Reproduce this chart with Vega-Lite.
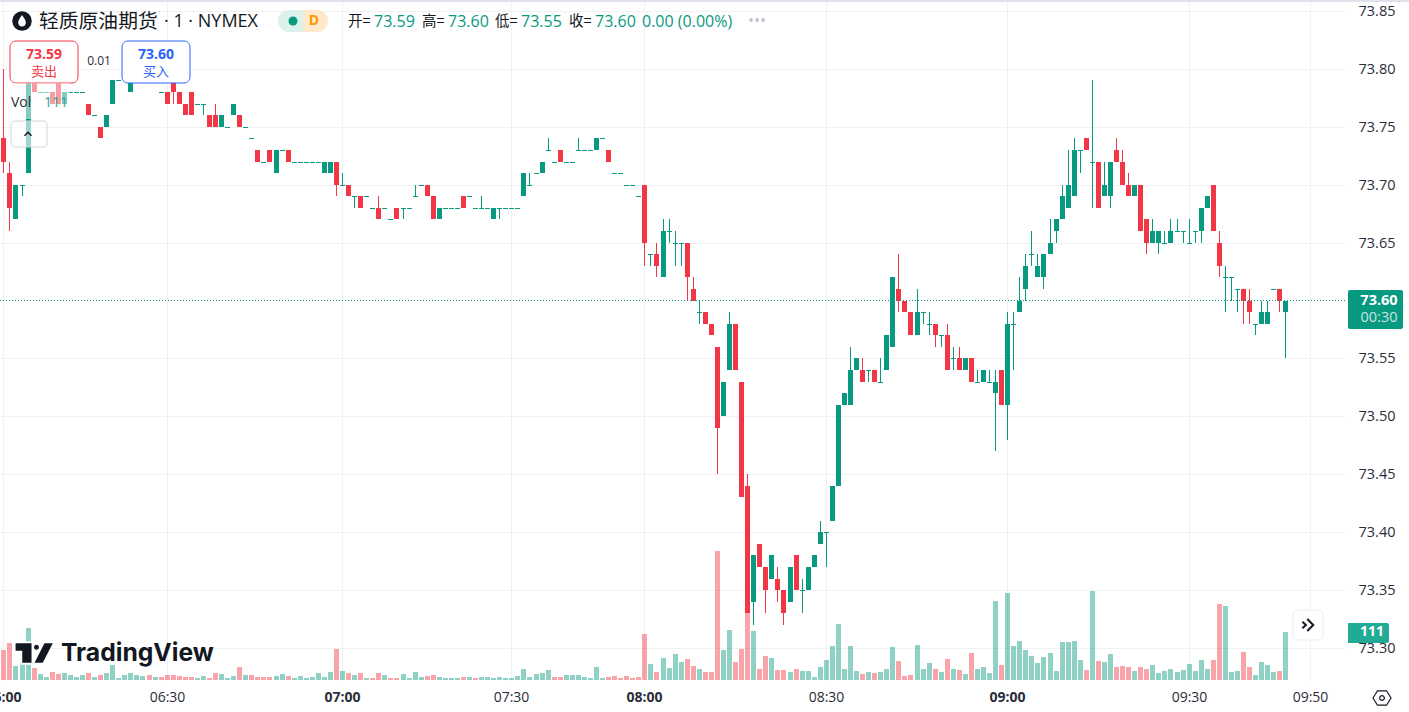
{"$schema":"https://vega.github.io/schema/vega-lite/v6.json","width":1345,"height":680,"autosize":"none","padding":{"left":0,"top":0,"right":64,"bottom":32},"background":"#ffffff","config":{"view":{"stroke":null},"text":{"font":"Open Sans"}},
"datasets":{"bars":[
{"i":0,"o":73.74,"h":73.80,"l":73.71,"c":73.72,"v":69,"d":"down"},
{"i":1,"o":73.71,"h":73.72,"l":73.66,"c":73.68,"v":85,"d":"down"},
{"i":2,"o":73.67,"h":73.70,"l":73.67,"c":73.70,"v":32,"d":"up"},
{"i":3,"o":73.70,"h":73.70,"l":73.69,"c":73.70,"v":53,"d":"up"},
{"i":4,"o":73.71,"h":73.79,"l":73.71,"c":73.79,"v":120,"d":"up"},
{"i":5,"o":73.79,"h":73.79,"l":73.78,"c":73.78,"v":28,"d":"down"},
{"i":6,"o":73.78,"h":73.78,"l":73.78,"c":73.78,"v":14,"d":"up"},
{"i":7,"o":73.78,"h":73.78,"l":73.78,"c":73.78,"v":7,"d":"up"},
{"i":8,"o":73.78,"h":73.78,"l":73.77,"c":73.77,"v":19,"d":"down"},
{"i":9,"o":73.79,"h":73.79,"l":73.77,"c":73.77,"v":14,"d":"down"},
{"i":10,"o":73.77,"h":73.78,"l":73.77,"c":73.78,"v":16,"d":"up"},
{"i":11,"o":73.78,"h":73.78,"l":73.78,"c":73.78,"v":12,"d":"up"},
{"i":12,"o":73.78,"h":73.78,"l":73.78,"c":73.78,"v":7,"d":"up"},
{"i":13,"o":73.78,"h":73.78,"l":73.78,"c":73.78,"v":12,"d":"up"},
{"i":14,"o":73.77,"h":73.77,"l":73.76,"c":73.76,"v":16,"d":"down"},
{"i":15,"o":73.76,"h":73.76,"l":73.76,"c":73.76,"v":7,"d":"up"},
{"i":16,"o":73.75,"h":73.75,"l":73.74,"c":73.74,"v":12,"d":"down"},
{"i":17,"o":73.75,"h":73.76,"l":73.75,"c":73.76,"v":16,"d":"up"},
{"i":18,"o":73.77,"h":73.79,"l":73.77,"c":73.79,"v":35,"d":"up"},
{"i":19,"o":73.79,"h":73.79,"l":73.79,"c":73.79,"v":5,"d":"up"},
{"i":20,"o":73.80,"h":73.80,"l":73.80,"c":73.80,"v":12,"d":"up"},
{"i":21,"o":73.78,"h":73.79,"l":73.78,"c":73.79,"v":16,"d":"up"},
{"i":22,"o":73.80,"h":73.80,"l":73.80,"c":73.80,"v":12,"d":"up"},
{"i":23,"o":73.80,"h":73.80,"l":73.80,"c":73.80,"v":9,"d":"up"},
{"i":24,"o":73.80,"h":73.80,"l":73.80,"c":73.80,"v":12,"d":"down"},
{"i":25,"o":73.80,"h":73.80,"l":73.80,"c":73.80,"v":7,"d":"up"},
{"i":26,"o":73.78,"h":73.78,"l":73.78,"c":73.78,"v":7,"d":"down"},
{"i":27,"o":73.78,"h":73.78,"l":73.77,"c":73.77,"v":12,"d":"down"},
{"i":28,"o":73.79,"h":73.79,"l":73.77,"c":73.78,"v":12,"d":"down"},
{"i":29,"o":73.78,"h":73.78,"l":73.77,"c":73.77,"v":9,"d":"down"},
{"i":30,"o":73.77,"h":73.77,"l":73.76,"c":73.76,"v":7,"d":"down"},
{"i":31,"o":73.78,"h":73.78,"l":73.76,"c":73.76,"v":7,"d":"down"},
{"i":32,"o":73.77,"h":73.77,"l":73.77,"c":73.77,"v":5,"d":"up"},
{"i":33,"o":73.77,"h":73.77,"l":73.76,"c":73.77,"v":9,"d":"up"},
{"i":34,"o":73.76,"h":73.76,"l":73.75,"c":73.75,"v":5,"d":"down"},
{"i":35,"o":73.76,"h":73.77,"l":73.75,"c":73.75,"v":16,"d":"down"},
{"i":36,"o":73.75,"h":73.76,"l":73.75,"c":73.76,"v":14,"d":"up"},
{"i":37,"o":73.75,"h":73.75,"l":73.75,"c":73.75,"v":5,"d":"up"},
{"i":38,"o":73.76,"h":73.77,"l":73.76,"c":73.77,"v":9,"d":"up"},
{"i":39,"o":73.76,"h":73.76,"l":73.75,"c":73.75,"v":30,"d":"down"},
{"i":40,"o":73.75,"h":73.75,"l":73.75,"c":73.75,"v":12,"d":"up"},
{"i":41,"o":73.74,"h":73.74,"l":73.74,"c":73.74,"v":12,"d":"down"},
{"i":42,"o":73.73,"h":73.73,"l":73.72,"c":73.72,"v":7,"d":"down"},
{"i":43,"o":73.72,"h":73.72,"l":73.72,"c":73.72,"v":7,"d":"down"},
{"i":44,"o":73.73,"h":73.73,"l":73.72,"c":73.72,"v":7,"d":"down"},
{"i":45,"o":73.71,"h":73.73,"l":73.71,"c":73.73,"v":9,"d":"up"},
{"i":46,"o":73.73,"h":73.73,"l":73.73,"c":73.73,"v":14,"d":"up"},
{"i":47,"o":73.73,"h":73.73,"l":73.72,"c":73.72,"v":9,"d":"down"},
{"i":48,"o":73.72,"h":73.72,"l":73.72,"c":73.72,"v":5,"d":"up"},
{"i":49,"o":73.72,"h":73.72,"l":73.72,"c":73.72,"v":9,"d":"up"},
{"i":50,"o":73.72,"h":73.72,"l":73.72,"c":73.72,"v":5,"d":"up"},
{"i":51,"o":73.72,"h":73.72,"l":73.72,"c":73.72,"v":7,"d":"up"},
{"i":52,"o":73.72,"h":73.72,"l":73.72,"c":73.72,"v":16,"d":"up"},
{"i":53,"o":73.71,"h":73.72,"l":73.71,"c":73.72,"v":7,"d":"up"},
{"i":54,"o":73.71,"h":73.72,"l":73.71,"c":73.72,"v":19,"d":"up"},
{"i":55,"o":73.72,"h":73.72,"l":73.69,"c":73.70,"v":72,"d":"down"},
{"i":56,"o":73.70,"h":73.71,"l":73.70,"c":73.70,"v":21,"d":"up"},
{"i":57,"o":73.70,"h":73.70,"l":73.69,"c":73.69,"v":16,"d":"down"},
{"i":58,"o":73.69,"h":73.69,"l":73.68,"c":73.69,"v":12,"d":"up"},
{"i":59,"o":73.69,"h":73.69,"l":73.68,"c":73.68,"v":16,"d":"down"},
{"i":60,"o":73.69,"h":73.69,"l":73.69,"c":73.69,"v":5,"d":"up"},
{"i":61,"o":73.68,"h":73.68,"l":73.68,"c":73.68,"v":5,"d":"down"},
{"i":62,"o":73.68,"h":73.69,"l":73.67,"c":73.67,"v":16,"d":"down"},
{"i":63,"o":73.68,"h":73.68,"l":73.68,"c":73.68,"v":12,"d":"up"},
{"i":64,"o":73.67,"h":73.67,"l":73.67,"c":73.67,"v":5,"d":"down"},
{"i":65,"o":73.68,"h":73.68,"l":73.67,"c":73.67,"v":5,"d":"down"},
{"i":66,"o":73.68,"h":73.68,"l":73.67,"c":73.68,"v":14,"d":"up"},
{"i":67,"o":73.68,"h":73.68,"l":73.68,"c":73.68,"v":5,"d":"up"},
{"i":68,"o":73.69,"h":73.70,"l":73.69,"c":73.69,"v":19,"d":"up"},
{"i":69,"o":73.70,"h":73.70,"l":73.70,"c":73.70,"v":7,"d":"up"},
{"i":70,"o":73.70,"h":73.70,"l":73.69,"c":73.69,"v":9,"d":"down"},
{"i":71,"o":73.69,"h":73.69,"l":73.67,"c":73.67,"v":12,"d":"down"},
{"i":72,"o":73.67,"h":73.68,"l":73.67,"c":73.68,"v":7,"d":"up"},
{"i":73,"o":73.68,"h":73.68,"l":73.68,"c":73.68,"v":5,"d":"up"},
{"i":74,"o":73.68,"h":73.68,"l":73.68,"c":73.68,"v":5,"d":"up"},
{"i":75,"o":73.68,"h":73.68,"l":73.68,"c":73.68,"v":5,"d":"up"},
{"i":76,"o":73.69,"h":73.69,"l":73.68,"c":73.68,"v":7,"d":"down"},
{"i":77,"o":73.69,"h":73.69,"l":73.69,"c":73.69,"v":7,"d":"up"},
{"i":78,"o":73.68,"h":73.68,"l":73.68,"c":73.68,"v":5,"d":"down"},
{"i":79,"o":73.68,"h":73.69,"l":73.68,"c":73.68,"v":7,"d":"up"},
{"i":80,"o":73.68,"h":73.68,"l":73.68,"c":73.68,"v":7,"d":"up"},
{"i":81,"o":73.67,"h":73.68,"l":73.67,"c":73.68,"v":5,"d":"up"},
{"i":82,"o":73.68,"h":73.68,"l":73.67,"c":73.68,"v":7,"d":"up"},
{"i":83,"o":73.68,"h":73.68,"l":73.68,"c":73.68,"v":5,"d":"up"},
{"i":84,"o":73.68,"h":73.68,"l":73.68,"c":73.68,"v":5,"d":"up"},
{"i":85,"o":73.68,"h":73.68,"l":73.68,"c":73.68,"v":9,"d":"up"},
{"i":86,"o":73.69,"h":73.71,"l":73.69,"c":73.71,"v":25,"d":"up"},
{"i":87,"o":73.70,"h":73.71,"l":73.70,"c":73.70,"v":7,"d":"up"},
{"i":88,"o":73.71,"h":73.71,"l":73.71,"c":73.71,"v":14,"d":"up"},
{"i":89,"o":73.71,"h":73.72,"l":73.71,"c":73.72,"v":16,"d":"up"},
{"i":90,"o":73.73,"h":73.74,"l":73.73,"c":73.73,"v":23,"d":"up"},
{"i":91,"o":73.72,"h":73.72,"l":73.72,"c":73.72,"v":7,"d":"down"},
{"i":92,"o":73.73,"h":73.73,"l":73.72,"c":73.72,"v":7,"d":"down"},
{"i":93,"o":73.72,"h":73.72,"l":73.72,"c":73.72,"v":12,"d":"up"},
{"i":94,"o":73.72,"h":73.72,"l":73.72,"c":73.72,"v":12,"d":"up"},
{"i":95,"o":73.73,"h":73.74,"l":73.73,"c":73.73,"v":12,"d":"up"},
{"i":96,"o":73.73,"h":73.73,"l":73.73,"c":73.73,"v":7,"d":"up"},
{"i":97,"o":73.73,"h":73.73,"l":73.73,"c":73.73,"v":5,"d":"up"},
{"i":98,"o":73.73,"h":73.74,"l":73.73,"c":73.74,"v":30,"d":"up"},
{"i":99,"o":73.74,"h":73.74,"l":73.74,"c":73.74,"v":5,"d":"up"},
{"i":100,"o":73.73,"h":73.73,"l":73.72,"c":73.72,"v":7,"d":"down"},
{"i":101,"o":73.71,"h":73.71,"l":73.71,"c":73.71,"v":9,"d":"down"},
{"i":102,"o":73.71,"h":73.71,"l":73.71,"c":73.71,"v":5,"d":"down"},
{"i":103,"o":73.70,"h":73.70,"l":73.70,"c":73.70,"v":9,"d":"down"},
{"i":104,"o":73.70,"h":73.70,"l":73.70,"c":73.70,"v":5,"d":"down"},
{"i":105,"o":73.69,"h":73.69,"l":73.69,"c":73.69,"v":7,"d":"down"},
{"i":106,"o":73.70,"h":73.70,"l":73.63,"c":73.65,"v":106,"d":"down"},
{"i":107,"o":73.64,"h":73.64,"l":73.63,"c":73.64,"v":37,"d":"up"},
{"i":108,"o":73.64,"h":73.65,"l":73.62,"c":73.63,"v":19,"d":"down"},
{"i":109,"o":73.62,"h":73.67,"l":73.62,"c":73.66,"v":51,"d":"up"},
{"i":110,"o":73.66,"h":73.67,"l":73.65,"c":73.66,"v":28,"d":"up"},
{"i":111,"o":73.65,"h":73.66,"l":73.63,"c":73.65,"v":60,"d":"up"},
{"i":112,"o":73.65,"h":73.65,"l":73.63,"c":73.65,"v":42,"d":"up"},
{"i":113,"o":73.65,"h":73.65,"l":73.60,"c":73.62,"v":49,"d":"down"},
{"i":114,"o":73.61,"h":73.62,"l":73.60,"c":73.60,"v":32,"d":"down"},
{"i":115,"o":73.59,"h":73.60,"l":73.58,"c":73.59,"v":25,"d":"up"},
{"i":116,"o":73.59,"h":73.59,"l":73.58,"c":73.58,"v":19,"d":"down"},
{"i":117,"o":73.58,"h":73.58,"l":73.57,"c":73.57,"v":19,"d":"down"},
{"i":118,"o":73.56,"h":73.56,"l":73.45,"c":73.49,"v":298,"d":"down"},
{"i":119,"o":73.50,"h":73.53,"l":73.50,"c":73.53,"v":69,"d":"up"},
{"i":120,"o":73.54,"h":73.59,"l":73.54,"c":73.58,"v":116,"d":"up"},
{"i":121,"o":73.58,"h":73.58,"l":73.54,"c":73.54,"v":42,"d":"down"},
{"i":122,"o":73.53,"h":73.53,"l":73.43,"c":73.43,"v":72,"d":"down"},
{"i":123,"o":73.44,"h":73.45,"l":73.33,"c":73.33,"v":393,"d":"down"},
{"i":124,"o":73.34,"h":73.38,"l":73.32,"c":73.38,"v":113,"d":"up"},
{"i":125,"o":73.39,"h":73.39,"l":73.37,"c":73.37,"v":25,"d":"down"},
{"i":126,"o":73.37,"h":73.37,"l":73.33,"c":73.35,"v":56,"d":"down"},
{"i":127,"o":73.36,"h":73.38,"l":73.36,"c":73.38,"v":51,"d":"up"},
{"i":128,"o":73.36,"h":73.37,"l":73.34,"c":73.35,"v":23,"d":"down"},
{"i":129,"o":73.35,"h":73.35,"l":73.32,"c":73.33,"v":23,"d":"down"},
{"i":130,"o":73.34,"h":73.37,"l":73.34,"c":73.37,"v":19,"d":"up"},
{"i":131,"o":73.38,"h":73.38,"l":73.35,"c":73.35,"v":25,"d":"down"},
{"i":132,"o":73.35,"h":73.36,"l":73.33,"c":73.35,"v":21,"d":"up"},
{"i":133,"o":73.35,"h":73.37,"l":73.35,"c":73.37,"v":21,"d":"up"},
{"i":134,"o":73.37,"h":73.38,"l":73.37,"c":73.38,"v":7,"d":"up"},
{"i":135,"o":73.39,"h":73.41,"l":73.39,"c":73.40,"v":30,"d":"up"},
{"i":136,"o":73.40,"h":73.40,"l":73.37,"c":73.40,"v":46,"d":"up"},
{"i":137,"o":73.41,"h":73.44,"l":73.41,"c":73.44,"v":79,"d":"up"},
{"i":138,"o":73.44,"h":73.51,"l":73.44,"c":73.51,"v":129,"d":"up"},
{"i":139,"o":73.51,"h":73.52,"l":73.51,"c":73.52,"v":25,"d":"up"},
{"i":140,"o":73.51,"h":73.56,"l":73.51,"c":73.54,"v":79,"d":"up"},
{"i":141,"o":73.54,"h":73.55,"l":73.54,"c":73.55,"v":21,"d":"up"},
{"i":142,"o":73.54,"h":73.55,"l":73.53,"c":73.53,"v":14,"d":"down"},
{"i":143,"o":73.54,"h":73.54,"l":73.53,"c":73.54,"v":19,"d":"up"},
{"i":144,"o":73.54,"h":73.54,"l":73.53,"c":73.53,"v":16,"d":"down"},
{"i":145,"o":73.53,"h":73.55,"l":73.53,"c":73.53,"v":19,"d":"up"},
{"i":146,"o":73.54,"h":73.57,"l":73.54,"c":73.57,"v":25,"d":"up"},
{"i":147,"o":73.56,"h":73.62,"l":73.56,"c":73.62,"v":76,"d":"up"},
{"i":148,"o":73.61,"h":73.64,"l":73.59,"c":73.60,"v":44,"d":"down"},
{"i":149,"o":73.60,"h":73.60,"l":73.59,"c":73.59,"v":9,"d":"down"},
{"i":150,"o":73.59,"h":73.59,"l":73.57,"c":73.57,"v":12,"d":"down"},
{"i":151,"o":73.57,"h":73.61,"l":73.57,"c":73.59,"v":81,"d":"up"},
{"i":152,"o":73.59,"h":73.59,"l":73.58,"c":73.59,"v":25,"d":"up"},
{"i":153,"o":73.58,"h":73.59,"l":73.57,"c":73.58,"v":39,"d":"up"},
{"i":154,"o":73.58,"h":73.58,"l":73.56,"c":73.57,"v":25,"d":"down"},
{"i":155,"o":73.57,"h":73.57,"l":73.56,"c":73.57,"v":19,"d":"up"},
{"i":156,"o":73.57,"h":73.58,"l":73.54,"c":73.54,"v":49,"d":"down"},
{"i":157,"o":73.55,"h":73.56,"l":73.54,"c":73.55,"v":25,"d":"up"},
{"i":158,"o":73.55,"h":73.56,"l":73.54,"c":73.54,"v":23,"d":"down"},
{"i":159,"o":73.54,"h":73.55,"l":73.54,"c":73.55,"v":14,"d":"up"},
{"i":160,"o":73.55,"h":73.55,"l":73.53,"c":73.53,"v":62,"d":"down"},
{"i":161,"o":73.53,"h":73.54,"l":73.53,"c":73.53,"v":25,"d":"up"},
{"i":162,"o":73.53,"h":73.54,"l":73.53,"c":73.54,"v":30,"d":"up"},
{"i":163,"o":73.53,"h":73.54,"l":73.53,"c":73.53,"v":16,"d":"up"},
{"i":164,"o":73.52,"h":73.54,"l":73.47,"c":73.53,"v":183,"d":"up"},
{"i":165,"o":73.54,"h":73.54,"l":73.51,"c":73.51,"v":35,"d":"down"},
{"i":166,"o":73.51,"h":73.59,"l":73.48,"c":73.58,"v":201,"d":"up"},
{"i":167,"o":73.58,"h":73.59,"l":73.54,"c":73.58,"v":79,"d":"up"},
{"i":168,"o":73.59,"h":73.62,"l":73.59,"c":73.60,"v":90,"d":"up"},
{"i":169,"o":73.61,"h":73.64,"l":73.60,"c":73.63,"v":69,"d":"up"},
{"i":170,"o":73.64,"h":73.66,"l":73.63,"c":73.64,"v":56,"d":"up"},
{"i":171,"o":73.62,"h":73.64,"l":73.62,"c":73.63,"v":39,"d":"up"},
{"i":172,"o":73.62,"h":73.64,"l":73.61,"c":73.64,"v":53,"d":"up"},
{"i":173,"o":73.64,"h":73.67,"l":73.64,"c":73.65,"v":62,"d":"up"},
{"i":174,"o":73.66,"h":73.67,"l":73.65,"c":73.67,"v":21,"d":"up"},
{"i":175,"o":73.67,"h":73.70,"l":73.67,"c":73.69,"v":88,"d":"up"},
{"i":176,"o":73.68,"h":73.73,"l":73.68,"c":73.70,"v":88,"d":"up"},
{"i":177,"o":73.69,"h":73.74,"l":73.69,"c":73.73,"v":90,"d":"up"},
{"i":178,"o":73.73,"h":73.73,"l":73.71,"c":73.73,"v":46,"d":"up"},
{"i":179,"o":73.74,"h":73.74,"l":73.73,"c":73.73,"v":23,"d":"down"},
{"i":180,"o":73.72,"h":73.79,"l":73.68,"c":73.72,"v":206,"d":"up"},
{"i":181,"o":73.72,"h":73.72,"l":73.68,"c":73.68,"v":44,"d":"down"},
{"i":182,"o":73.69,"h":73.72,"l":73.69,"c":73.70,"v":42,"d":"up"},
{"i":183,"o":73.69,"h":73.72,"l":73.68,"c":73.72,"v":60,"d":"up"},
{"i":184,"o":73.73,"h":73.74,"l":73.72,"c":73.72,"v":30,"d":"down"},
{"i":185,"o":73.72,"h":73.73,"l":73.70,"c":73.70,"v":32,"d":"down"},
{"i":186,"o":73.70,"h":73.71,"l":73.69,"c":73.69,"v":30,"d":"down"},
{"i":187,"o":73.69,"h":73.70,"l":73.69,"c":73.70,"v":21,"d":"up"},
{"i":188,"o":73.70,"h":73.70,"l":73.66,"c":73.66,"v":30,"d":"down"},
{"i":189,"o":73.67,"h":73.67,"l":73.64,"c":73.65,"v":25,"d":"down"},
{"i":190,"o":73.65,"h":73.67,"l":73.65,"c":73.66,"v":35,"d":"up"},
{"i":191,"o":73.65,"h":73.66,"l":73.64,"c":73.66,"v":16,"d":"up"},
{"i":192,"o":73.65,"h":73.66,"l":73.65,"c":73.65,"v":21,"d":"up"},
{"i":193,"o":73.65,"h":73.67,"l":73.65,"c":73.66,"v":25,"d":"up"},
{"i":194,"o":73.66,"h":73.67,"l":73.66,"c":73.66,"v":19,"d":"up"},
{"i":195,"o":73.66,"h":73.66,"l":73.65,"c":73.66,"v":23,"d":"up"},
{"i":196,"o":73.65,"h":73.67,"l":73.65,"c":73.65,"v":37,"d":"up"},
{"i":197,"o":73.66,"h":73.66,"l":73.65,"c":73.66,"v":21,"d":"up"},
{"i":198,"o":73.66,"h":73.68,"l":73.65,"c":73.68,"v":46,"d":"up"},
{"i":199,"o":73.68,"h":73.69,"l":73.68,"c":73.69,"v":25,"d":"up"},
{"i":200,"o":73.70,"h":73.70,"l":73.66,"c":73.66,"v":46,"d":"down"},
{"i":201,"o":73.65,"h":73.66,"l":73.62,"c":73.63,"v":176,"d":"down"},
{"i":202,"o":73.62,"h":73.63,"l":73.59,"c":73.62,"v":171,"d":"up"},
{"i":203,"o":73.62,"h":73.62,"l":73.60,"c":73.62,"v":19,"d":"up"},
{"i":204,"o":73.61,"h":73.61,"l":73.59,"c":73.61,"v":21,"d":"up"},
{"i":205,"o":73.61,"h":73.61,"l":73.58,"c":73.60,"v":65,"d":"down"},
{"i":206,"o":73.60,"h":73.61,"l":73.58,"c":73.59,"v":30,"d":"down"},
{"i":207,"o":73.58,"h":73.58,"l":73.57,"c":73.58,"v":12,"d":"up"},
{"i":208,"o":73.58,"h":73.60,"l":73.58,"c":73.59,"v":42,"d":"up"},
{"i":209,"o":73.58,"h":73.60,"l":73.58,"c":73.59,"v":35,"d":"up"},
{"i":210,"o":73.61,"h":73.61,"l":73.61,"c":73.61,"v":19,"d":"up"},
{"i":211,"o":73.61,"h":73.61,"l":73.59,"c":73.60,"v":21,"d":"down"},
{"i":212,"o":73.59,"h":73.60,"l":73.55,"c":73.60,"v":111,"d":"up"}
]},
"layer":[
{"data":{"name":"bars"},"mark":{"type":"bar","size":5,"xOffset":0.5,"opacity":0.45},"encoding":{
"x":{"field":"i","type":"quantitative","scale":{"domain":[-0.562,221.86],"round":true,"padding":0},"axis":{"title":null,"values":[0,27,56,84,106,136,166,196,216],"labelExpr":"{'0':'06:00','27':'06:30','56':'07:00','84':'07:30','106':'08:00','136':'08:30','166':'09:00','196':'09:30','216':'09:50'}[datum.value]","grid":true,"gridColor":"#f0f1f3","ticks":false,"domain":false,"labelOverlap":false,"labelBound":false,"labelFlush":false,"labelFont":"Open Sans","labelFontSize":14,"labelColor":"#2a2e39","labelPadding":10,"labelFontWeight":{"condition":{"test":"datum.value==56||datum.value==106||datum.value==166||datum.value==0","value":"bold"},"value":"normal"}}},
"y":{"field":"v","type":"quantitative","scale":{"domain":[0,1573],"round":true},"axis":null},
"color":{"condition":{"test":"datum.d=='down'","value":"#f23645"},"value":"#089981"}}},
{"layer":[
{"data":{"name":"bars"},"layer":[
{"mark":{"type":"rule","strokeWidth":1,"xOffset":0.5},"encoding":{
"x":{"field":"i","type":"quantitative","scale":{"domain":[-0.562,221.86],"padding":0},"axis":null},
"y":{"field":"l","type":"quantitative","scale":{"domain":[73.2724,73.8595],"round":true},"axis":{"orient":"right","title":null,"values":[73.30,73.35,73.40,73.45,73.50,73.55,73.65,73.70,73.75,73.80,73.85],"format":".2f","grid":true,"gridColor":"#f0f1f3","ticks":false,"domain":false,"labelFont":"Open Sans","labelFontSize":14.5,"labelColor":"#2a2e39","labelPadding":13}},
"y2":{"field":"h"},
"color":{"condition":{"test":"datum.c<datum.o","value":"#f23645"},"value":"#089981"}}},
{"transform":[{"filter":"datum.o!=datum.c"}],"mark":{"type":"bar","size":5,"xOffset":0.5},"encoding":{
"x":{"field":"i","type":"quantitative","scale":{"domain":[-0.562,221.86],"padding":0},"axis":null},
"y":{"field":"o","type":"quantitative","scale":{"domain":[73.2724,73.8595]}},
"y2":{"field":"c"},
"color":{"condition":{"test":"datum.c<datum.o","value":"#f23645"},"value":"#089981"}}},
{"transform":[{"filter":"datum.o==datum.c"}],"mark":{"type":"tick","orient":"horizontal","size":5,"thickness":1,"xOffset":0.5,"yOffset":0.5,"color":"#089981","opacity":1},"encoding":{
"x":{"field":"i","type":"quantitative","scale":{"domain":[-0.562,221.86]},"axis":null},
"y":{"field":"o","type":"quantitative","scale":{"domain":[73.2724,73.8595]}}}}
]},
{"data":{"values":[{}]},"layer":[
{"mark":{"type":"rule","color":"#089981","strokeDash":[1,2],"strokeWidth":1,"yOffset":-0.5},"encoding":{"y":{"datum":73.6,"type":"quantitative","scale":{"domain":[73.2724,73.8595]}}}},
{"mark":{"type":"rule","color":"#e0e3eb","strokeWidth":2},"encoding":{"x":{"datum":-0.562,"type":"quantitative","scale":{"domain":[-0.562,221.86]},"axis":null},"x2":{"datum":232.45},"y":{"datum":73.8586,"type":"quantitative","scale":{"domain":[73.2724,73.8595]}}}},
{"mark":{"type":"point","filled":true,"opacity":1,"color":"#131722","shape":"circle","size":380},"encoding":{"x":{"datum":3.08,"type":"quantitative","scale":{"domain":[-0.562,221.86]},"axis":null},"y":{"datum":73.8414,"type":"quantitative","scale":{"domain":[73.2724,73.8595]}}}},
{"mark":{"type":"point","filled":true,"opacity":1,"color":"#ffffff","shape":"M0,-0.6 C0.3,-0.2 0.38,0 0.38,0.18 A0.38,0.38 0 1 1 -0.38,0.18 C-0.38,0 -0.3,-0.2 0,-0.6 Z","size":400},"encoding":{"x":{"datum":3.08,"type":"quantitative","scale":{"domain":[-0.562,221.86]},"axis":null},"y":{"datum":73.8414,"type":"quantitative","scale":{"domain":[73.2724,73.8595]}}}},
{"mark":{"type":"text","text":"轻质原油期货","font":"Noto Sans CJK SC","fontSize":19.8,"align":"left","baseline":"middle","color":"#131722"},"encoding":{"x":{"datum":5.89,"type":"quantitative","scale":{"domain":[-0.562,221.86]},"axis":null},"y":{"datum":73.8405,"type":"quantitative","scale":{"domain":[73.2724,73.8595]}}}},
{"mark":{"type":"text","text":"· 1 · NYMEX","font":"Open Sans","fontSize":18,"align":"left","baseline":"middle","color":"#131722"},"encoding":{"x":{"datum":26.6,"type":"quantitative","scale":{"domain":[-0.562,221.86]},"axis":null},"y":{"datum":73.8405,"type":"quantitative","scale":{"domain":[73.2724,73.8595]}}}},
{"mark":{"type":"rect","color":"#daf1ec","cornerRadiusTopLeft":11,"cornerRadiusBottomLeft":11},"encoding":{"x":{"datum":45.41,"type":"quantitative","scale":{"domain":[-0.562,221.86]},"axis":null},"x2":{"datum":49.55},"y":{"datum":73.8509,"type":"quantitative","scale":{"domain":[73.2724,73.8595]}},"y2":{"datum":73.8319}}},
{"mark":{"type":"rect","color":"#ffe9cc","cornerRadiusTopRight":11,"cornerRadiusBottomRight":11},"encoding":{"x":{"datum":49.55,"type":"quantitative","scale":{"domain":[-0.562,221.86]},"axis":null},"x2":{"datum":53.68},"y":{"datum":73.8509,"type":"quantitative","scale":{"domain":[73.2724,73.8595]}},"y2":{"datum":73.8319}}},
{"mark":{"type":"point","filled":true,"opacity":1,"color":"#089981","shape":"circle","size":80},"encoding":{"x":{"datum":47.89,"type":"quantitative","scale":{"domain":[-0.562,221.86]},"axis":null},"y":{"datum":73.8414,"type":"quantitative","scale":{"domain":[73.2724,73.8595]}}}},
{"mark":{"type":"text","text":"D","font":"Open Sans","fontWeight":"bold","fontSize":14,"align":"center","baseline":"middle","color":"#ff9800"},"encoding":{"x":{"datum":51.37,"type":"quantitative","scale":{"domain":[-0.562,221.86]},"axis":null},"y":{"datum":73.8414,"type":"quantitative","scale":{"domain":[73.2724,73.8595]}}}},
{"mark":{"type":"text","text":"开=","font":"Noto Sans CJK SC","fontSize":14.5,"align":"left","baseline":"middle","color":"#131722"},"encoding":{"x":{"datum":57.0,"type":"quantitative","scale":{"domain":[-0.562,221.86]},"axis":null},"y":{"datum":73.8405,"type":"quantitative","scale":{"domain":[73.2724,73.8595]}}}},
{"mark":{"type":"text","text":"73.59","fontSize":16,"align":"left","baseline":"middle","color":"#089981"},"encoding":{"x":{"datum":61.29,"type":"quantitative","scale":{"domain":[-0.562,221.86]},"axis":null},"y":{"datum":73.8405,"type":"quantitative","scale":{"domain":[73.2724,73.8595]}}}},
{"mark":{"type":"text","text":"高=","font":"Noto Sans CJK SC","fontSize":14.5,"align":"left","baseline":"middle","color":"#131722"},"encoding":{"x":{"datum":69.22,"type":"quantitative","scale":{"domain":[-0.562,221.86]},"axis":null},"y":{"datum":73.8405,"type":"quantitative","scale":{"domain":[73.2724,73.8595]}}}},
{"mark":{"type":"text","text":"73.60","fontSize":16,"align":"left","baseline":"middle","color":"#089981"},"encoding":{"x":{"datum":73.53,"type":"quantitative","scale":{"domain":[-0.562,221.86]},"axis":null},"y":{"datum":73.8405,"type":"quantitative","scale":{"domain":[73.2724,73.8595]}}}},
{"mark":{"type":"text","text":"低=","font":"Noto Sans CJK SC","fontSize":14.5,"align":"left","baseline":"middle","color":"#131722"},"encoding":{"x":{"datum":81.3,"type":"quantitative","scale":{"domain":[-0.562,221.86]},"axis":null},"y":{"datum":73.8405,"type":"quantitative","scale":{"domain":[73.2724,73.8595]}}}},
{"mark":{"type":"text","text":"73.55","fontSize":16,"align":"left","baseline":"middle","color":"#089981"},"encoding":{"x":{"datum":85.6,"type":"quantitative","scale":{"domain":[-0.562,221.86]},"axis":null},"y":{"datum":73.8405,"type":"quantitative","scale":{"domain":[73.2724,73.8595]}}}},
{"mark":{"type":"text","text":"收=","font":"Noto Sans CJK SC","fontSize":14.5,"align":"left","baseline":"middle","color":"#131722"},"encoding":{"x":{"datum":93.53,"type":"quantitative","scale":{"domain":[-0.562,221.86]},"axis":null},"y":{"datum":73.8405,"type":"quantitative","scale":{"domain":[73.2724,73.8595]}}}},
{"mark":{"type":"text","text":"73.60","fontSize":16,"align":"left","baseline":"middle","color":"#089981"},"encoding":{"x":{"datum":97.83,"type":"quantitative","scale":{"domain":[-0.562,221.86]},"axis":null},"y":{"datum":73.8405,"type":"quantitative","scale":{"domain":[73.2724,73.8595]}}}},
{"mark":{"type":"text","text":"0.00 (0.00%)","fontSize":16,"align":"left","baseline":"middle","color":"#089981"},"encoding":{"x":{"datum":105.6,"type":"quantitative","scale":{"domain":[-0.562,221.86]},"axis":null},"y":{"datum":73.8405,"type":"quantitative","scale":{"domain":[73.2724,73.8595]}}}},
{"mark":{"type":"text","text":"•••","fontSize":16,"align":"center","baseline":"middle","color":"#c1c4cd"},"encoding":{"x":{"datum":124.63,"type":"quantitative","scale":{"domain":[-0.562,221.86]},"axis":null},"y":{"datum":73.8414,"type":"quantitative","scale":{"domain":[73.2724,73.8595]}}}},
{"mark":{"type":"rect","fill":"#ffffff","stroke":"#f23645","strokeWidth":1,"cornerRadius":6},"encoding":{"x":{"datum":1.09,"type":"quantitative","scale":{"domain":[-0.562,221.86]},"axis":null},"x2":{"datum":12.34},"y":{"datum":73.8241,"type":"quantitative","scale":{"domain":[73.2724,73.8595]}},"y2":{"datum":73.7878}}},
{"mark":{"type":"text","text":"73.59","fontSize":14,"fontWeight":"bold","align":"center","baseline":"middle","color":"#f23645"},"encoding":{"x":{"datum":6.71,"type":"quantitative","scale":{"domain":[-0.562,221.86]},"axis":null},"y":{"datum":73.812,"type":"quantitative","scale":{"domain":[73.2724,73.8595]}}}},
{"mark":{"type":"text","text":"卖出","font":"Noto Sans CJK SC","fontSize":13,"align":"center","baseline":"middle","color":"#f23645"},"encoding":{"x":{"datum":6.71,"type":"quantitative","scale":{"domain":[-0.562,221.86]},"axis":null},"y":{"datum":73.7973,"type":"quantitative","scale":{"domain":[73.2724,73.8595]}}}},
{"mark":{"type":"text","text":"0.01","fontSize":12,"align":"center","baseline":"middle","color":"#2a2e39"},"encoding":{"x":{"datum":15.81,"type":"quantitative","scale":{"domain":[-0.562,221.86]},"axis":null},"y":{"datum":73.8068,"type":"quantitative","scale":{"domain":[73.2724,73.8595]}}}},
{"mark":{"type":"rect","fill":"#ffffff","stroke":"#2962ff","strokeWidth":1,"cornerRadius":6},"encoding":{"x":{"datum":19.61,"type":"quantitative","scale":{"domain":[-0.562,221.86]},"axis":null},"x2":{"datum":30.86},"y":{"datum":73.8241,"type":"quantitative","scale":{"domain":[73.2724,73.8595]}},"y2":{"datum":73.7878}}},
{"mark":{"type":"text","text":"73.60","fontSize":14,"fontWeight":"bold","align":"center","baseline":"middle","color":"#2962ff"},"encoding":{"x":{"datum":25.23,"type":"quantitative","scale":{"domain":[-0.562,221.86]},"axis":null},"y":{"datum":73.812,"type":"quantitative","scale":{"domain":[73.2724,73.8595]}}}},
{"mark":{"type":"text","text":"买入","font":"Noto Sans CJK SC","fontSize":13,"align":"center","baseline":"middle","color":"#2962ff"},"encoding":{"x":{"datum":25.23,"type":"quantitative","scale":{"domain":[-0.562,221.86]},"axis":null},"y":{"datum":73.7973,"type":"quantitative","scale":{"domain":[73.2724,73.8595]}}}},
{"mark":{"type":"rect","fill":"#ffffff","opacity":0.5},"encoding":{"x":{"datum":1.09,"type":"quantitative","scale":{"domain":[-0.562,221.86]},"axis":null},"x2":{"datum":11.01},"y":{"datum":73.7878,"type":"quantitative","scale":{"domain":[73.2724,73.8595]}},"y2":{"datum":73.7568}}},
{"mark":{"type":"text","text":"Vol","fontSize":14,"align":"left","baseline":"middle","color":"#2a2e39"},"encoding":{"x":{"datum":1.26,"type":"quantitative","scale":{"domain":[-0.562,221.86]},"axis":null},"y":{"datum":73.7706,"type":"quantitative","scale":{"domain":[73.2724,73.8595]}}}},
{"mark":{"type":"text","text":"111","fontSize":14,"align":"left","baseline":"middle","color":"#22ab94"},"encoding":{"x":{"datum":6.71,"type":"quantitative","scale":{"domain":[-0.562,221.86]},"axis":null},"y":{"datum":73.7706,"type":"quantitative","scale":{"domain":[73.2724,73.8595]}}}},
{"mark":{"type":"rect","fill":"#ffffff","fillOpacity":0.6,"stroke":"#d1d4dc","strokeWidth":1,"cornerRadius":4},"encoding":{"x":{"datum":1.26,"type":"quantitative","scale":{"domain":[-0.562,221.86]},"axis":null},"x2":{"datum":7.21},"y":{"datum":73.755,"type":"quantitative","scale":{"domain":[73.2724,73.8595]}},"y2":{"datum":73.7326}}},
{"mark":{"type":"point","filled":false,"opacity":1,"stroke":"#131722","strokeWidth":1.5,"shape":"M-0.5,0.25 L0,-0.25 L0.5,0.25","size":196},"encoding":{"x":{"datum":4.07,"type":"quantitative","scale":{"domain":[-0.562,221.86]},"axis":null},"y":{"datum":73.7438,"type":"quantitative","scale":{"domain":[73.2724,73.8595]}}}},
{"mark":{"type":"rect","fill":"#089981","cornerRadius":2},"encoding":{"x":{"datum":222.36,"type":"quantitative","scale":{"domain":[-0.562,221.86]},"axis":null},"x2":{"datum":231.46},"y":{"datum":73.6091,"type":"quantitative","scale":{"domain":[73.2724,73.8595]}},"y2":{"datum":73.5754}}},
{"mark":{"type":"text","text":"73.60","fontSize":14.5,"fontWeight":"bold","align":"center","baseline":"middle","color":"#ffffff"},"encoding":{"x":{"datum":227.4,"type":"quantitative","scale":{"domain":[-0.562,221.86]},"axis":null},"y":{"datum":73.6,"type":"quantitative","scale":{"domain":[73.2724,73.8595]}}}},
{"mark":{"type":"text","text":"00:30","fontSize":14.5,"align":"center","baseline":"middle","color":"#ffffff","opacity":0.75},"encoding":{"x":{"datum":227.4,"type":"quantitative","scale":{"domain":[-0.562,221.86]},"axis":null},"y":{"datum":73.5849,"type":"quantitative","scale":{"domain":[73.2724,73.8595]}}}},
{"mark":{"type":"rect","fill":"#22ab94","cornerRadiusTopRight":2,"cornerRadiusBottomRight":2},"encoding":{"x":{"datum":222.36,"type":"quantitative","scale":{"domain":[-0.562,221.86]},"axis":null},"x2":{"datum":229.14},"y":{"datum":73.3216,"type":"quantitative","scale":{"domain":[73.2724,73.8595]}},"y2":{"datum":73.3043}}},
{"mark":{"type":"text","text":"111","fontSize":14,"fontWeight":"bold","align":"center","baseline":"middle","color":"#ffffff"},"encoding":{"x":{"datum":226.33,"type":"quantitative","scale":{"domain":[-0.562,221.86]},"axis":null},"y":{"datum":73.3138,"type":"quantitative","scale":{"domain":[73.2724,73.8595]}}}},
{"mark":{"type":"rect","fill":"#ffffff","stroke":"#eceef2","strokeWidth":1,"cornerRadius":5},"encoding":{"x":{"datum":213.26,"type":"quantitative","scale":{"domain":[-0.562,221.86]},"axis":null},"x2":{"datum":218.22},"y":{"datum":73.3328,"type":"quantitative","scale":{"domain":[73.2724,73.8595]}},"y2":{"datum":73.3069}}},
{"mark":{"type":"point","filled":false,"opacity":1,"stroke":"#131722","strokeWidth":2,"shape":"M-0.8,-0.45 L-0.3,0 L-0.8,0.45 M-0.1,-0.85 L0.75,0 L-0.1,0.85","size":196},"encoding":{"x":{"datum":215.74,"type":"quantitative","scale":{"domain":[-0.562,221.86]},"axis":null},"y":{"datum":73.3199,"type":"quantitative","scale":{"domain":[73.2724,73.8595]}}}},
{"mark":{"type":"point","filled":false,"opacity":1,"stroke":"#131722","strokeWidth":1.2,"shape":"M-1,0 L-0.5,-0.8 L0.5,-0.8 L1,0 L0.5,0.8 L-0.5,0.8 Z","size":324},"encoding":{"x":{"datum":227.98,"type":"quantitative","scale":{"domain":[-0.562,221.86]},"axis":null},"y":{"datum":73.2568,"type":"quantitative","scale":{"domain":[73.2724,73.8595]}}}},
{"mark":{"type":"point","filled":false,"opacity":1,"stroke":"#131722","strokeWidth":1.2,"shape":"circle","size":22},"encoding":{"x":{"datum":227.98,"type":"quantitative","scale":{"domain":[-0.562,221.86]},"axis":null},"y":{"datum":73.2568,"type":"quantitative","scale":{"domain":[73.2724,73.8595]}}}},
{"mark":{"type":"point","filled":true,"opacity":1,"fill":"#ffffff","stroke":"#ffffff","strokeWidth":4,"shape":"M-0.97,-0.51 H-0.13 V0.51 H-0.62 V-0.12 H-0.97 Z M0.55,-0.51 H0.99 L0.46,0.51 H0.03 Z M0.26,-0.3 A0.13,0.13 0 1 1 0,-0.3 A0.13,0.13 0 1 1 0.26,-0.3 Z","size":1444},"encoding":{"x":{"datum":4.98,"type":"quantitative","scale":{"domain":[-0.562,221.86]},"axis":null},"y":{"datum":73.2957,"type":"quantitative","scale":{"domain":[73.2724,73.8595]}}}},
{"mark":{"type":"point","filled":true,"opacity":1,"fill":"#131722","strokeWidth":0,"shape":"M-0.97,-0.51 H-0.13 V0.51 H-0.62 V-0.12 H-0.97 Z M0.55,-0.51 H0.99 L0.46,0.51 H0.03 Z M0.26,-0.3 A0.13,0.13 0 1 1 0,-0.3 A0.13,0.13 0 1 1 0.26,-0.3 Z","size":1444},"encoding":{"x":{"datum":4.98,"type":"quantitative","scale":{"domain":[-0.562,221.86]},"axis":null},"y":{"datum":73.2957,"type":"quantitative","scale":{"domain":[73.2724,73.8595]}}}},
{"mark":{"type":"text","text":"TradingView","font":"Inter","fontWeight":"bold","fontSize":24.7,"align":"left","baseline":"middle","color":"#131722"},"encoding":{"x":{"datum":9.53,"type":"quantitative","scale":{"domain":[-0.562,221.86]},"axis":null},"y":{"datum":73.2948,"type":"quantitative","scale":{"domain":[73.2724,73.8595]}}}}
]}
]}
],
"resolve":{"scale":{"y":"independent"},"axis":{"x":"independent"}}}
